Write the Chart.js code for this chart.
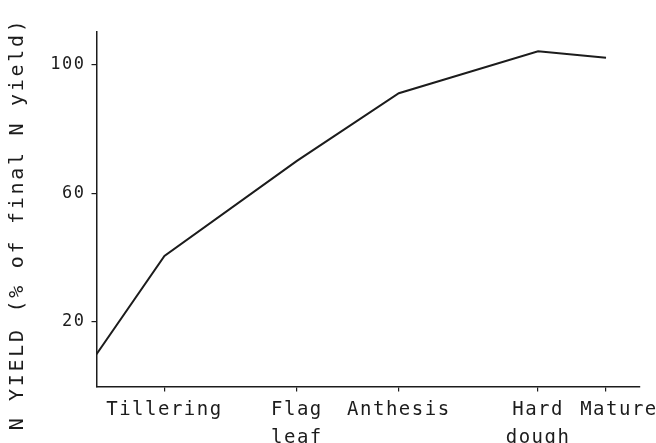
<!DOCTYPE html>
<html>
<head>
<meta charset="utf-8">
<script src="https://cdn.jsdelivr.net/npm/chart.js@4/dist/chart.umd.min.js"></script>
<style>
  html, body { margin: 0; padding: 0; background: #ffffff; }
  #wrap { width: 656px; height: 443px; }
</style>
</head>
<body>
<div id="wrap"><canvas id="c" width="656" height="443"></canvas></div>
<script>
// Growth stages along the season (position on the time axis) and their labels
const stageLabels = [['Tillering'], ['Flag', 'leaf'], ['Anthesis'], ['Hard', 'dough'], ['Mature']];
const stagePos = [20, 59, 89, 130, 150];

// Sampling times and nitrogen yield as % of final N yield
const sampleTimes = [0, 20, 59, 89, 130, 150];
const nYield = [10, 40.5, 70, 91, 104, 102];

// Labelled values on the vertical axis
const yTicks = [20, 60, 100];

const axisTitle = 'N YIELD (% of final N yield)';
const ink = '#1c1c1c';
const mono = "'DejaVu Sans Mono', 'Liberation Mono', monospace";

// Plotter-style lettering: slightly spaced characters for all axis text
const spacedText = {
  id: 'spacedText',
  beforeDraw(chart) {
    chart.ctx.letterSpacing = '1.5px';
  },
  afterDraw(chart) {
    const ctx = chart.ctx;
    ctx.save();
    ctx.letterSpacing = '2.7px';
    ctx.fillStyle = ink;
    ctx.font = '20px ' + mono;
    ctx.textAlign = 'center';
    ctx.textBaseline = 'middle';
    ctx.translate(18, 224);
    ctx.rotate(-Math.PI / 2);
    ctx.fillText(axisTitle, 0, 0);
    ctx.restore();
  }
};

new Chart(document.getElementById('c'), {
  type: 'line',
  data: {
    datasets: [{
      data: sampleTimes.map((t, i) => ({ x: t, y: nYield[i] })),
      borderColor: ink,
      borderWidth: 2,
      pointRadius: 0,
      tension: 0,
      fill: false
    }]
  },
  options: {
    responsive: false,
    animation: false,
    devicePixelRatio: 1,
    layout: { padding: { top: 32, right: 16, left: 0, bottom: 0 } },
    plugins: {
      legend: { display: false },
      tooltip: { enabled: false }
    },
    scales: {
      x: {
        type: 'linear',
        min: 0,
        max: 160,
        afterBuildTicks(scale) {
          scale.ticks = stagePos.map(v => ({ value: v }));
        },
        afterFit(scale) {
          scale.height = 56.5;
          scale.paddingLeft = 0;
          scale.paddingRight = 0;
        },
        border: { display: true, color: ink, width: 1.5 },
        grid: { drawOnChartArea: false, drawTicks: true, tickLength: 5, color: ink, lineWidth: 1.2 },
        ticks: {
          autoSkip: false,
          maxRotation: 0,
          padding: 5,
          color: ink,
          font: { family: mono, size: 19, lineHeight: 1.45 },
          callback(value, index) {
            // the last stage label sits a little to the right of its tick
            const lines = stageLabels[index];
            return index === stageLabels.length - 1 ? lines.map(s => '\u2002\u2002' + s) : lines;
          }
        }
      },
      y: {
        type: 'linear',
        min: 0,
        max: 110,
        afterBuildTicks(scale) {
          scale.ticks = yTicks.map(v => ({ value: v }));
        },
        afterFit(scale) {
          scale.width = 96.5;
          scale.paddingTop = 0;
          scale.paddingBottom = 0;
        },
        border: { display: true, color: ink, width: 1.5 },
        grid: { drawOnChartArea: false, drawTicks: true, tickLength: 5, color: ink, lineWidth: 1.2 },
        ticks: {
          padding: 6,
          color: ink,
          font: { family: mono, size: 17 },
          callback(value) { return String(value); }
        }
      }
    }
  },
  plugins: [spacedText]
});
</script>
</body>
</html>
